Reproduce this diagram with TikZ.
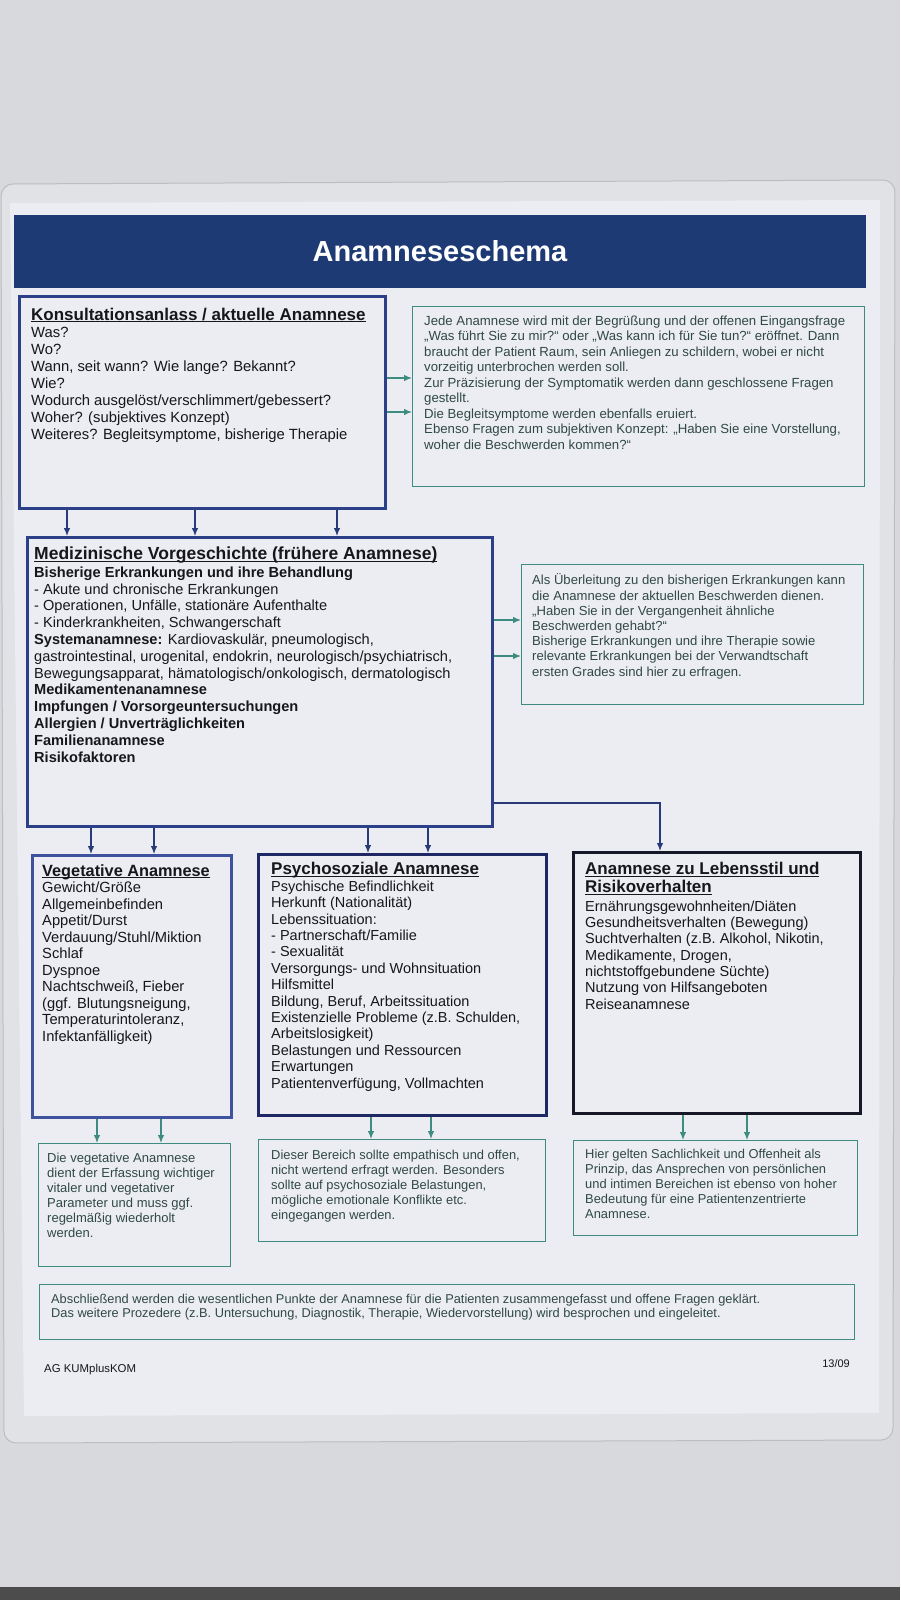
\documentclass[tikz,border=0pt]{standalone}
\usepackage{fontspec}
\setmainfont{Liberation Sans}
\usetikzlibrary{arrows.meta}
\definecolor{wall}{RGB}{216,217,221}
\definecolor{sleeve}{RGB}{225,226,230}
\definecolor{sleeveedge}{RGB}{188,189,194}
\definecolor{paper}{RGB}{236,237,242}
\definecolor{banner}{RGB}{30,58,117}
\definecolor{boxblue}{RGB}{44,64,138}
\definecolor{vegblue}{RGB}{62,82,158}
\definecolor{psyblue}{RGB}{30,40,100}
\definecolor{lebdark}{RGB}{22,24,40}
\definecolor{navy}{RGB}{40,58,120}
\definecolor{notegreen}{RGB}{62,140,128}
\definecolor{notetext}{RGB}{48,72,70}
\definecolor{ink}{RGB}{22,22,28}
% bold title with a flat underline just below the baseline
\newcommand{\titleline}[2]{{\fontsize{#1}{#1}\selectfont\bfseries\sbox0{#2}\rlap{#2}\rule[-2.4pt]{\wd0}{1.1pt}}}
\newcommand{\boxtitle}[1]{\titleline{17}{#1}}
\begin{document}
\begin{tikzpicture}[x=1pt,y=-1pt,
  box/.style={draw=#1, line width=2.6pt, anchor=north west, inner sep=0pt},
  notebox/.style={draw=notegreen, line width=1.3pt, anchor=north west, inner sep=0pt},
  txt/.style={anchor=base west, align=left, inner sep=0pt, text=ink},
  notetxt/.style={anchor=base west, align=left, inner sep=0pt, text=notetext},
  down/.style={-{Latex[length=8pt,width=6.5pt]}, line width=1.2pt, draw=navy},
  side/.style={-{Latex[length=8pt,width=6.5pt]}, line width=1.2pt, draw=notegreen}]
\useasboundingbox (0,0) rectangle (900,1600);
% photo background, sleeve and card
\fill[wall] (0,0) rectangle (900,1600);
\fill[black!70] (0,1587) rectangle (900,1600);
\filldraw[fill=sleeve, draw=sleeveedge, line width=1pt, rounded corners=12pt] (1,184) -- (895,180) -- (893,1440) -- (4,1443) -- cycle;
\fill[paper] (10,203) -- (880,200) -- (879,1413) -- (24,1416) -- cycle;

\node[fill=banner, minimum width=852, minimum height=73, inner sep=0pt, text=white, font={\fontsize{29}{29}\selectfont\bfseries}] (banner) at (440,251.5) {Anamneseschema};

% first row (text nodes sit on the baseline of their last line)
\node[box=boxblue, minimum width=366, minimum height=212] (kons) at (18,295) {};
\node[txt, font={\fontsize{14.8}{17}\selectfont}] (konstxt) at (31,439) {\boxtitle{Konsultationsanlass / aktuelle Anamnese}\\
Was?\\
Wo?\\
Wann, seit wann? Wie lange? Bekannt?\\
Wie?\\
Wodurch ausgelöst/verschlimmert/gebessert?\\
Woher? (subjektives Konzept)\\
Weiteres? Begleitsymptome, bisherige Therapie};

\node[notebox, minimum width=452, minimum height=180] (konsnote) at (412,306) {};
\node[notetxt, font={\fontsize{13.2}{15.5}\selectfont}] (konsnotetxt) at (424,449) {Jede Anamnese wird mit der Begrüßung und der offenen Eingangsfrage\\
„Was führt Sie zu mir?“ oder „Was kann ich für Sie tun?“ eröffnet. Dann\\
braucht der Patient Raum, sein Anliegen zu schildern, wobei er nicht\\
vorzeitig unterbrochen werden soll.\\
Zur Präzisierung der Symptomatik werden dann geschlossene Fragen\\
gestellt.\\
Die Begleitsymptome werden ebenfalls eruiert.\\
Ebenso Fragen zum subjektiven Konzept: „Haben Sie eine Vorstellung,\\
woher die Beschwerden kommen?“};

% second row
\node[box=boxblue, minimum width=465, minimum height=289] (med) at (26,536) {};
\node[txt, font={\fontsize{14.6}{16.8}\selectfont}] (medtxt) at (34,762) {\titleline{17.5}{Medizinische Vorgeschichte (frühere Anamnese)}\\[1pt]
\textbf{Bisherige Erkrankungen und ihre Behandlung}\\
- Akute und chronische Erkrankungen\\
- Operationen, Unfälle, stationäre Aufenthalte\\
- Kinderkrankheiten, Schwangerschaft\\
\textbf{Systemanamnese:} Kardiovaskulär, pneumologisch,\\
gastrointestinal, urogenital, endokrin, neurologisch/psychiatrisch,\\
Bewegungsapparat, hämatologisch/onkologisch, dermatologisch\\
\textbf{Medikamentenanamnese}\\
\textbf{Impfungen / Vorsorgeuntersuchungen}\\
\textbf{Allergien / Unverträglichkeiten}\\
\textbf{Familienanamnese}\\
\textbf{Risikofaktoren}};

\node[notebox, minimum width=342, minimum height=140] (mednote) at (521,564) {};
\node[notetxt, font={\fontsize{13.1}{15.2}\selectfont}] (mednotetxt) at (532,676) {Als Überleitung zu den bisherigen Erkrankungen kann\\
die Anamnese der aktuellen Beschwerden dienen.\\
„Haben Sie in der Vergangenheit ähnliche\\
Beschwerden gehabt?“\\
Bisherige Erkrankungen und ihre Therapie sowie\\
relevante Erkrankungen bei der Verwandtschaft\\
ersten Grades sind hier zu erfragen.};

% third row
\node[box=vegblue, minimum width=199, minimum height=262] (veg) at (31,854) {};
\node[txt, font={\fontsize{14.7}{16.5}\selectfont}] (vegtxt) at (42,1041) {\titleline{16.3}{Vegetative Anamnese}\\
Gewicht/Größe\\
Allgemeinbefinden\\
Appetit/Durst\\
Verdauung/Stuhl/Miktion\\
Schlaf\\
Dyspnoe\\
Nachtschweiß, Fieber\\
(ggf. Blutungsneigung,\\
Temperaturintoleranz,\\
Infektanfälligkeit)};

\node[box=psyblue, minimum width=288, minimum height=261] (psy) at (257,853) {};
\node[txt, font={\fontsize{14.5}{16.4}\selectfont}] (psytxt) at (271,1088) {\boxtitle{Psychosoziale Anamnese}\\
Psychische Befindlichkeit\\
Herkunft (Nationalität)\\
Lebenssituation:\\
- Partnerschaft/Familie\\
- Sexualität\\
Versorgungs- und Wohnsituation\\
Hilfsmittel\\
Bildung, Beruf, Arbeitssituation\\
Existenzielle Probleme (z.B. Schulden,\\
Arbeitslosigkeit)\\
Belastungen und Ressourcen\\
Erwartungen\\
Patientenverfügung, Vollmachten};

\node[box=lebdark, minimum width=287, minimum height=261] (leb) at (572,851) {};
\node[txt, font={\fontsize{14.5}{16.3}\selectfont}] (lebtxt) at (585,1009) {\boxtitle{Anamnese zu Lebensstil und}\\[1.5pt]
\boxtitle{Risikoverhalten}\\[2.5pt]
Ernährungsgewohnheiten/Diäten\\
Gesundheitsverhalten (Bewegung)\\
Suchtverhalten (z.B. Alkohol, Nikotin,\\
Medikamente, Drogen,\\
nichtstoffgebundene Süchte)\\
Nutzung von Hilfsangeboten\\
Reiseanamnese};

% notes under third row
\node[notebox, minimum width=192, minimum height=123] (vegnote) at (38,1143) {};
\node[notetxt, font={\fontsize{13}{15}\selectfont}] (vegnotetxt) at (47,1237) {Die vegetative Anamnese\\
dient der Erfassung wichtiger\\
vitaler und vegetativer\\
Parameter und muss ggf.\\
regelmäßig wiederholt\\
werden.};

\node[notebox, minimum width=287, minimum height=102] (psynote) at (258,1139) {};
\node[notetxt, font={\fontsize{12.9}{15}\selectfont}] (psynotetxt) at (271,1219) {Dieser Bereich sollte empathisch und offen,\\
nicht wertend erfragt werden. Besonders\\
sollte auf psychosoziale Belastungen,\\
mögliche emotionale Konflikte etc.\\
eingegangen werden.};

\node[notebox, minimum width=284, minimum height=95] (lebnote) at (573,1140) {};
\node[notetxt, font={\fontsize{12.9}{15}\selectfont}] (lebnotetxt) at (585,1218) {Hier gelten Sachlichkeit und Offenheit als\\
Prinzip, das Ansprechen von persönlichen\\
und intimen Bereichen ist ebenso von hoher\\
Bedeutung für eine Patientenzentrierte\\
Anamnese.};

% closing box and footer
\node[notebox, minimum width=815, minimum height=55] (schluss) at (39,1284) {};
\node[notetxt, font={\fontsize{12.8}{14}\selectfont}] (schlusstxt) at (51,1317) {Abschließend werden die wesentlichen Punkte der Anamnese für die Patienten zusammengefasst und offene Fragen geklärt.\\
Das weitere Prozedere (z.B. Untersuchung, Diagnostik, Therapie, Wiedervorstellung) wird besprochen und eingeleitet.};

\node[anchor=base west, inner sep=0pt, text=ink, font={\fontsize{11.4}{12}\selectfont}] (ag) at (44,1372) {AG KUMplusKOM};
\node[anchor=base east, inner sep=0pt, text=ink, font={\fontsize{11}{12}\selectfont}] (datum) at (850,1367) {13/09};

% arrows
\foreach \x in {67,195,337}
  \draw[down] (\x,0 |- kons.south) -- (\x,0 |- med.north);
\foreach \y in {378,412}
  \draw[side] (kons.east |- 0,\y) -- (konsnote.west |- 0,\y);
\foreach \y in {620,656}
  \draw[side] (med.east |- 0,\y) -- (mednote.west |- 0,\y);
\foreach \x in {91,154}
  \draw[down] (\x,0 |- med.south) -- (\x,0 |- veg.north);
\foreach \x in {368,428}
  \draw[down] (\x,0 |- med.south) -- (\x,0 |- psy.north);
\draw[down] (med.east |- 0,803) -| (660,0 |- leb.north);
\foreach \x in {97,161}
  \draw[side] (\x,0 |- veg.south) -- (\x,0 |- vegnote.north);
\foreach \x in {371,431}
  \draw[side] (\x,0 |- psy.south) -- (\x,0 |- psynote.north);
\foreach \x in {683,747}
  \draw[side] (\x,0 |- leb.south) -- (\x,0 |- lebnote.north);
\end{tikzpicture}
\end{document}
